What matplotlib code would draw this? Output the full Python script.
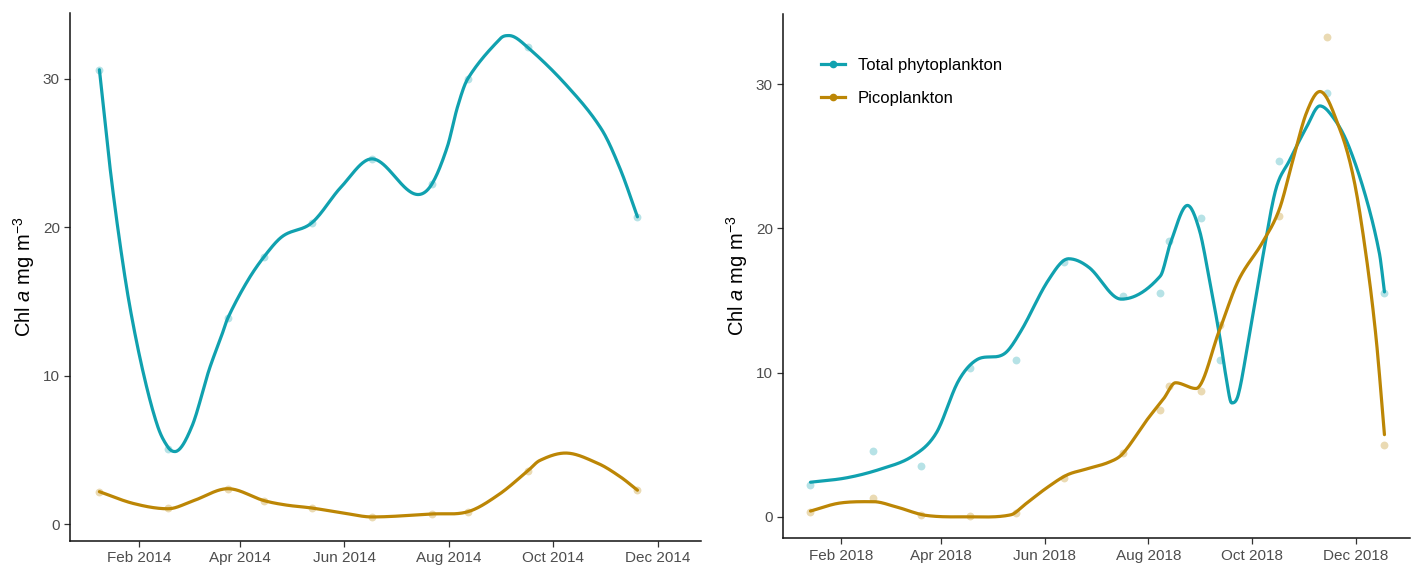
import numpy as np
import matplotlib
matplotlib.use("Agg")
import matplotlib.pyplot as plt
import matplotlib.dates as mdates
from matplotlib.lines import Line2D

plt.rcParams["font.family"] = ["Liberation Sans", "DejaVu Sans"]
plt.rcParams["mathtext.fontset"] = "custom"
plt.rcParams["mathtext.rm"] = "Liberation Sans"
plt.rcParams["mathtext.it"] = "Liberation Sans:italic"

TEAL = "#10a1af"
GOLD = "#bc8605"

# 2014 sampling: observed points
dates_2014 = ["2014-01-09", "2014-02-18", "2014-03-25", "2014-04-15", "2014-05-13",
              "2014-06-17", "2014-07-22", "2014-08-12", "2014-09-16", "2014-11-19"]
total_2014 = [30.6, 5.1, 13.9, 18.0, 20.3, 24.6, 22.9, 30.0, 32.1, 20.7]
pico_2014 = [2.2, 1.1, 2.4, 1.6, 1.1, 0.5, 0.7, 0.85, 3.6, 2.3]

# 2014 fitted curves
fit_total_2014_dates = ["2014-01-09", "2014-01-15", "2014-01-21", "2014-01-27", "2014-02-04",
                        "2014-02-12", "2014-02-18", "2014-02-22", "2014-03-04", "2014-03-14",
                        "2014-03-21", "2014-03-25",
                        "2014-04-05", "2014-04-15", "2014-04-26", "2014-05-13", "2014-05-30",
                        "2014-06-17", "2014-07-14", "2014-07-22", "2014-07-31", "2014-08-06",
                        "2014-08-12", "2014-08-31", "2014-09-05", "2014-09-16", "2014-10-09",
                        "2014-10-29", "2014-11-09", "2014-11-19"]
fit_total_2014 = [30.6, 24.2, 18.9, 14.5, 10.0, 6.6, 5.2, 4.9, 6.6, 10.4,
                  12.6, 13.9,
                  16.3, 18.0, 19.4, 20.3, 22.7, 24.6, 22.2, 22.9, 25.4, 28.1,
                  30.0, 32.7, 32.9, 32.1, 29.5, 26.6, 23.9, 20.7]
fit_pico_2014_dates = ["2014-01-09", "2014-01-29", "2014-02-18", "2014-03-05", "2014-03-25",
                       "2014-04-15", "2014-04-28", "2014-05-13", "2014-06-01", "2014-06-17",
                       "2014-07-22", "2014-08-12", "2014-08-30", "2014-09-16", "2014-09-23",
                       "2014-10-08", "2014-10-27", "2014-11-09", "2014-11-19"]
fit_pico_2014 = [2.2, 1.4, 1.05, 1.6, 2.4, 1.6, 1.3, 1.1, 0.75, 0.5,
                 0.7, 0.85, 2.0, 3.6, 4.3, 4.8, 4.1, 3.2, 2.3]

# 2018 sampling: observed points
dates_2018 = ["2018-01-14", "2018-02-20", "2018-03-20", "2018-04-18", "2018-05-15",
              "2018-06-12", "2018-07-17", "2018-08-08", "2018-08-13", "2018-09-01",
              "2018-09-12", "2018-10-17", "2018-11-14", "2018-12-18"]
total_2018 = [2.2, 4.6, 3.5, 10.3, 10.9, 17.7, 15.3, 15.5, 19.1, 20.7,
              10.9, 24.7, 29.4, 15.5]
pico_2018 = [0.3, 1.3, 0.15, 0.05, 0.25, 2.7, 4.4, 7.4, 9.1, 8.7,
             13.3, 20.9, 33.3, 5.0]

# 2018 fitted curves
fit_total_2018_dates = ["2018-01-14", "2018-02-04", "2018-02-24", "2018-03-15", "2018-03-29",
                        "2018-04-11", "2018-04-22", "2018-05-08", "2018-05-18", "2018-06-03",
                        "2018-06-15", "2018-06-27", "2018-07-16", "2018-08-08", "2018-08-14",
                        "2018-08-24", "2018-08-31", "2018-09-06", "2018-09-12", "2018-09-16",
                        "2018-09-19", "2018-09-23", "2018-09-29", "2018-10-07", "2018-10-15",
                        "2018-10-23", "2018-11-02", "2018-11-10", "2018-11-19", "2018-11-27",
                        "2018-12-07", "2018-12-15", "2018-12-18"]
fit_total_2018 = [2.4, 2.7, 3.3, 4.2, 5.8, 9.4, 10.9, 11.3, 12.9, 16.4,
                  17.9, 17.3, 15.1, 16.7, 19.0, 21.6, 19.9, 16.4, 12.5, 9.5,
                  7.9, 8.5, 12.3, 17.8, 22.7, 24.7, 27.0, 28.5, 27.5, 25.7,
                  22.2, 18.3, 15.6]
fit_pico_2018_dates = ["2018-01-14", "2018-01-31", "2018-02-20", "2018-03-06", "2018-03-23",
                       "2018-04-17", "2018-05-12", "2018-05-20", "2018-06-02", "2018-06-14",
                       "2018-06-25", "2018-07-09", "2018-07-17", "2018-07-31", "2018-08-10",
                       "2018-08-17", "2018-08-29", "2018-09-12", "2018-09-23", "2018-10-07",
                       "2018-10-17", "2018-10-25", "2018-11-02", "2018-11-10", "2018-11-22",
                       "2018-11-30", "2018-12-07", "2018-12-13", "2018-12-18"]
fit_pico_2018 = [0.4, 0.95, 1.05, 0.67, 0.1, 0.0, 0.14, 0.83, 2.0, 2.9,
                 3.3, 3.8, 4.4, 6.7, 8.2, 9.3, 8.9, 13.0, 16.4, 19.0,
                 21.3, 24.7, 28.0, 29.5, 26.8, 23.4, 18.3, 12.5, 5.7]


def to_num(ds):
    return mdates.date2num(np.array(ds, dtype="datetime64[D]"))


def smooth_line(xs, ys, n=700):
    # cubic Hermite through the read-off curve knots
    x = np.asarray(xs, float)
    y = np.asarray(ys, float)
    d = np.diff(y) / np.diff(x)
    m = np.empty_like(y)
    m[0], m[-1] = d[0], d[-1]
    m[1:-1] = (y[2:] - y[:-2]) / (x[2:] - x[:-2])
    m[1:-1][d[:-1] * d[1:] <= 0] = 0
    xx = np.linspace(x[0], x[-1], n)
    i = np.clip(np.searchsorted(x, xx) - 1, 0, len(x) - 2)
    h = x[i + 1] - x[i]
    t = (xx - x[i]) / h
    h00 = 2 * t**3 - 3 * t**2 + 1
    h10 = t**3 - 2 * t**2 + t
    h01 = -2 * t**3 + 3 * t**2
    h11 = t**3 - t**2
    yy = h00 * y[i] + h10 * h * m[i] + h01 * y[i + 1] + h11 * h * m[i + 1]
    return xx, yy


fig = plt.figure(figsize=(14.17, 5.65), dpi=100)
ax1 = fig.add_axes([0.0496, 0.043, 0.445, 0.9335])
ax2 = fig.add_axes([0.5528, 0.047, 0.4422, 0.9288])

panels = [
    (ax1, dates_2014, total_2014, pico_2014,
     fit_total_2014_dates, fit_total_2014, fit_pico_2014_dates, fit_pico_2014,
     ("2013-12-23", "2014-12-26"), (-1.1, 34.4)),
    (ax2, dates_2018, total_2018, pico_2018,
     fit_total_2018_dates, fit_total_2018, fit_pico_2018_dates, fit_pico_2018,
     ("2017-12-29", "2019-01-02"), (-1.5, 34.9)),
]

for ax, d, tot, pico, ftd, ft, fpd, fp, xl, yl in panels:
    x = to_num(d)
    ax.scatter(x, tot, s=32, color=TEAL, alpha=0.3, linewidths=0, zorder=2)
    ax.scatter(x, pico, s=32, color=GOLD, alpha=0.3, linewidths=0, zorder=2)
    xs, ys = smooth_line(to_num(ftd), ft)
    ax.plot(xs, ys, color=TEAL, lw=2.3, zorder=3, solid_capstyle="round")
    xs, ys = smooth_line(to_num(fpd), fp)
    ax.plot(xs, ys, color=GOLD, lw=2.3, zorder=3, solid_capstyle="round")

    ax.set_xlim(to_num(list(xl)))
    ax.set_ylim(*yl)
    ax.set_yticks([0, 10, 20, 30])
    ax.xaxis.set_major_locator(mdates.MonthLocator(bymonth=[2, 4, 6, 8, 10, 12]))
    ax.xaxis.set_major_formatter(mdates.DateFormatter("%b %Y"))
    for s in ["top", "right"]:
        ax.spines[s].set_visible(False)
    for s in ["left", "bottom"]:
        ax.spines[s].set_linewidth(1.1)
        ax.spines[s].set_color("#111111")
    ax.tick_params(axis="both", length=4, width=0.9, color="#333333",
                   labelcolor="#4d4d4d", labelsize=11)
    ax.set_ylabel(r"Chl $\it{a}$ mg m$^{-3}$", fontsize=14.5, labelpad=4)

handles = [
    Line2D([], [], color=TEAL, lw=2.3, marker="o", markersize=4.5),
    Line2D([], [], color=GOLD, lw=2.3, marker="o", markersize=4.5),
]
ax2.legend(handles, ["Total phytoplankton", "Picoplankton"], loc="upper left",
           bbox_to_anchor=(0.036, 0.945), frameon=False, fontsize=12,
           handlelength=1.45, labelspacing=1.1, handletextpad=0.75)

fig.savefig("out.png", dpi=100)
